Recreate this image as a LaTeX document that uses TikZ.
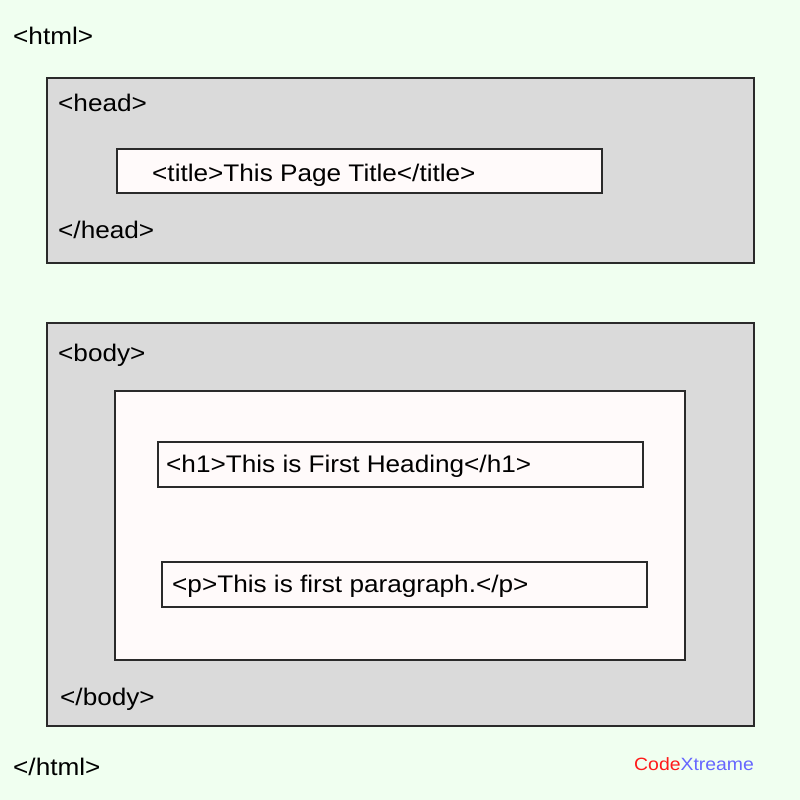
\documentclass[tikz,border=0pt]{standalone}
\usepackage{fontspec}
\setmainfont[FakeStretch=1.09]{Liberation Sans}
\definecolor{bgc}{HTML}{F0FFF0}
\definecolor{grayc}{HTML}{DADADA}
\definecolor{innerc}{HTML}{FFFAFA}
\definecolor{edgec}{HTML}{2A2A2A}
\definecolor{cxred}{HTML}{FF1A1A}
\definecolor{cxblue}{HTML}{6666FF}
\begin{document}
\begin{tikzpicture}[x=1pt,y=-1pt,
  outerbox/.style={draw=edgec,line width=1.2pt,fill=grayc},
  innerbox/.style={draw=edgec,line width=1.2pt,fill=innerc},
  tag/.style={anchor=base west,inner sep=0pt,font=\fontsize{24}{28}\selectfont,text=black}]
\useasboundingbox[fill=bgc] (0,0) rectangle (800,800);
% head
\path[outerbox] (47,78) rectangle (754,263);
\path[innerbox] (117,149) rectangle (602,193);
\node[tag] (html) at (13,45) {<html>};
\node[tag] (headopen) at (58,111) {<head>};
\node[tag] (title) at (152,181.3) {<title>This Page Title</title>};
\node[tag] (headclose) at (58,238) {</head>};
% body
\path[outerbox] (47,323) rectangle (754,726);
\path[innerbox] (115,391) rectangle (685,660);
\path[innerbox] (158,442) rectangle (643,487);
\path[innerbox] (162,562) rectangle (647,607);
\node[tag] (bodyopen) at (58,361) {<body>};
\node[tag] (h1) at (166,472.3) {<h1>This is First Heading</h1>};
\node[tag] (p) at (172,592.3) {<p>This is first paragraph.</p>};
\node[tag] (bodyclose) at (60,705.7) {</body>};
\node[tag] (htmlclose) at (13,775.3) {</html>};
\node[anchor=base west,inner sep=0pt,font=\fontsize{17.8}{22}\selectfont] (logo) at (634,770) {\textcolor{cxred}{Code}\textcolor{cxblue}{Xtreame}};
\end{tikzpicture}
\end{document}
